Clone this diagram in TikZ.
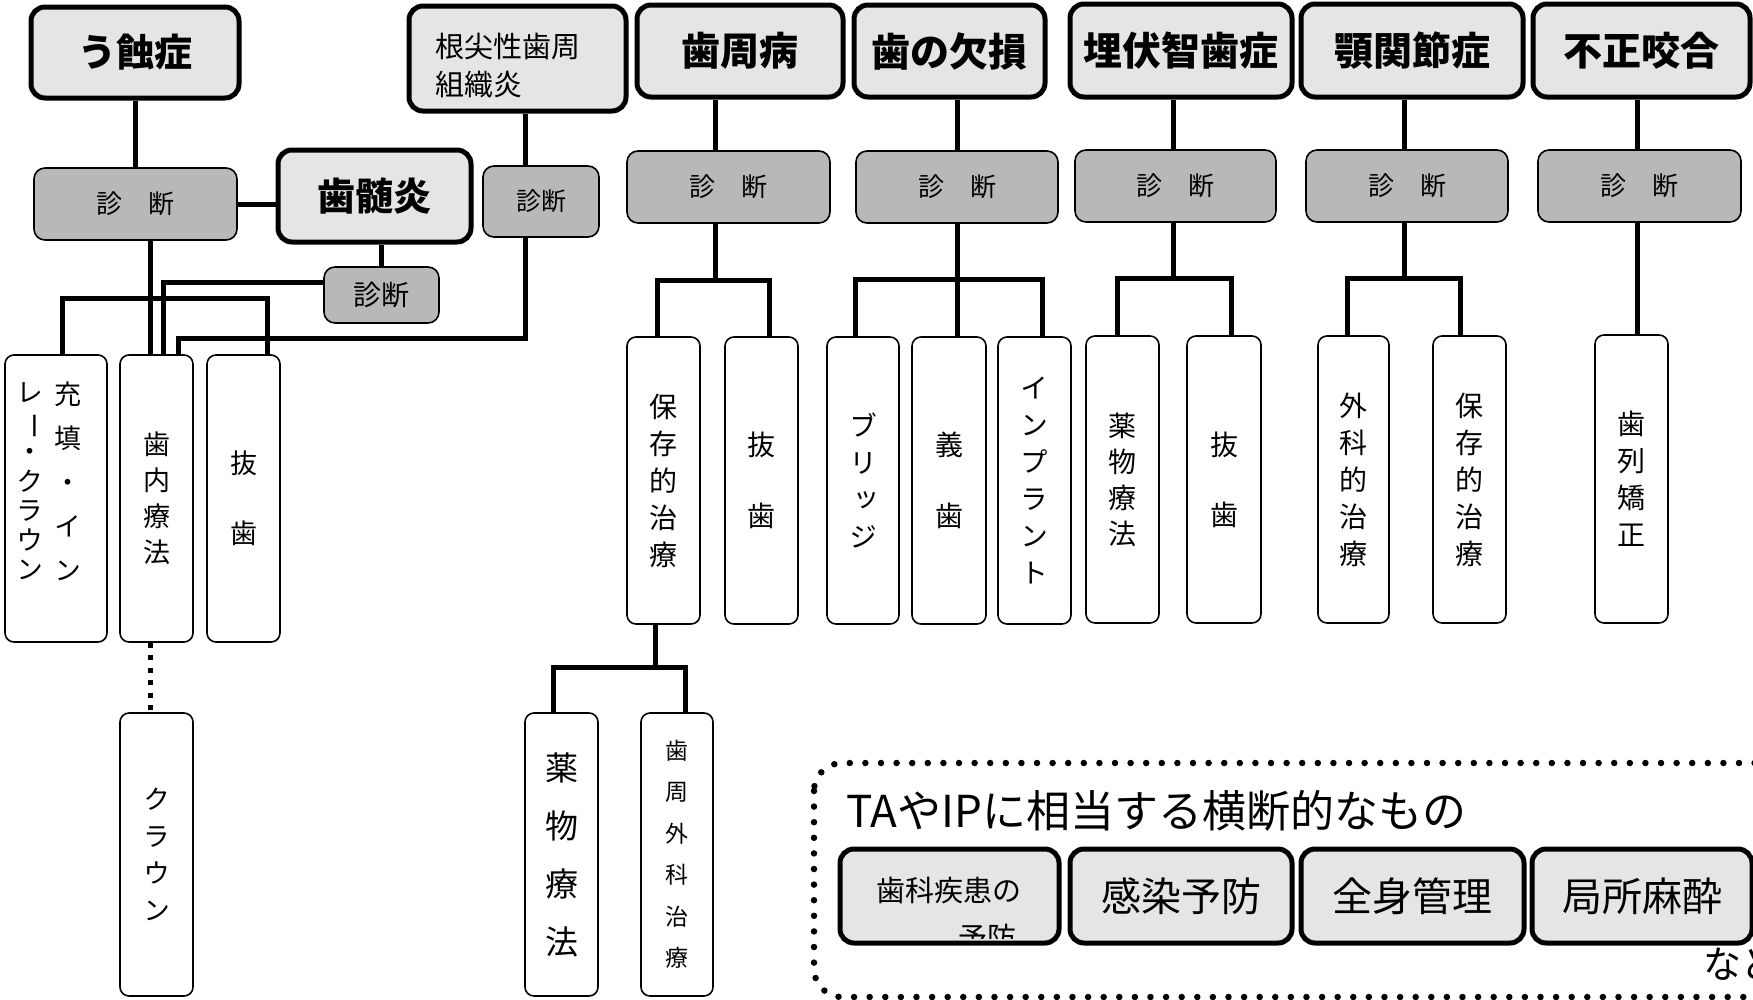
\documentclass[tikz,border=0pt]{standalone}
\usepackage{fontspec}
\usepackage{graphicx}
\setmainfont{Noto Sans CJK JP}
\newfontfamily\jpv[RawFeature=+vert]{Noto Sans CJK JP}
\newcommand{\vt}[2]{\fontsize{#1}{#2}\selectfont}
\newcommand{\mkbox}[7]{\node[#1,minimum width={(#5)-(#3)},minimum height={(#6)-(#4)}] (#2) at ({((#3)+(#5))/2},{((#4)+(#6))/2}) {#7};}
\newcommand{\vbar}{\rotatebox[origin=c]{-90}{\normalfont\vt{27}{30}ー}}
\definecolor{lightfill}{gray}{0.9}
\definecolor{diagfill}{gray}{0.72}
\tikzset{
  disease/.style={draw=black,line width=5pt,rounded corners=14pt,fill=lightfill,inner sep=0pt,align=center,font=\bfseries\vt{39}{44}},
  diagbox/.style={draw=black,line width=1.6pt,rounded corners=11pt,fill=diagfill,inner sep=0pt,align=center,font=\vt{26}{30}},
  treat/.style={draw=black,line width=1.6pt,rounded corners=9pt,fill=white,inner sep=0pt,align=center},
  conn/.style={line width=5pt},
  dotconn/.style={line width=5pt,dash pattern=on 5pt off 7.5pt},
  dotframe/.style={line width=6.5pt,line cap=round,dash pattern=on 0pt off 15.6pt,rounded corners=28pt},
  plain/.style={inner sep=0pt,align=left},
}
\begin{document}
\begin{tikzpicture}[x=1pt,y=-1pt]
\useasboundingbox (0,0) rectangle (1753,999);

% ---------- top row ----------
\mkbox{disease,font=\bfseries\vt{38}{44}}{caries}{31}{7}{239}{98}{う蝕症}
\mkbox{disease}{apical}{409}{6}{626}{111}{}
\node[plain,font=\vt{29}{38}] (apicalT) at (508,66) {根尖性歯周\\組織炎};
\mkbox{disease}{perio}{637}{5}{843}{97}{歯周病}
\mkbox{disease}{loss}{854}{5}{1045}{97}{歯の欠損}
\mkbox{disease}{impact}{1070}{4}{1292}{97}{埋伏智歯症}
\mkbox{disease}{tmj}{1301}{4}{1523}{97}{顎関節症}
\mkbox{disease}{maloc}{1533}{4}{1750}{97}{不正咬合}

% ---------- diagnosis row ----------
\mkbox{diagbox}{dA}{34}{168}{237}{240}{診　断}
\mkbox{disease,font=\bfseries\vt{38}{44}}{pulp}{278}{150}{471}{242}{歯髄炎}
\mkbox{diagbox,font=\vt{28}{30}}{dP}{324}{267}{439}{323}{診断}
\mkbox{diagbox,font=\vt{25}{30}}{dR}{483}{166}{599}{237}{診断}
\mkbox{diagbox}{dPerio}{627}{151}{830}{223}{診　断}
\mkbox{diagbox}{dLoss}{856}{151}{1058}{223}{診　断}
\mkbox{diagbox}{dImp}{1075}{150}{1276}{222}{診　断}
\mkbox{diagbox}{dTmj}{1306}{150}{1508}{222}{診　断}
\mkbox{diagbox}{dMal}{1538}{150}{1741}{222}{診　断}

% ---------- treatment boxes ----------
\mkbox{treat}{L1}{5}{355}{107}{642}{}
\node[plain,align=center,font=\jpv\vt{27}{44}] (L1r) at (68,481.5) {充\\填\\・\\イ\\ン};
\node[plain,align=center,font=\jpv\vt{27}{29.5}] (L1l) at (30,481.5) {レ\\\vbar\\・\\ク\\ラ\\ウ\\ン};
\mkbox{treat,font=\vt{27}{36}}{L2}{120}{355}{193}{642}{歯\\内\\療\\法}
\mkbox{treat,font=\vt{27}{70}}{L3}{207}{355}{280}{642}{抜\\歯}
\mkbox{treat,font=\jpv\vt{27}{37}}{crown}{120}{713}{193}{996}{ク\\ラ\\ウ\\ン}

\mkbox{treat,font=\vt{28}{37}}{P1}{627}{337}{700}{624}{保\\存\\的\\治\\療}
\mkbox{treat,font=\vt{28}{71}}{P2}{725}{337}{798}{624}{抜\\歯}
\mkbox{treat,font=\vt{33}{58}}{P3}{525}{713}{598}{996}{薬\\物\\療\\法}
\mkbox{treat,font=\vt{23}{41.5}}{P4}{641}{713}{713}{996}{歯\\周\\外\\科\\治\\療}

\mkbox{treat,font=\jpv\vt{28}{37}}{B1}{827}{337}{899}{624}{ブ\\リ\\ッ\\ジ}
\mkbox{treat,font=\vt{28}{71}}{B2}{912}{337}{986}{624}{義\\歯}
\mkbox{treat,font=\jpv\vt{28}{37}}{B3}{998}{337}{1071}{624}{イ\\ン\\プ\\ラ\\ン\\ト}

\mkbox{treat,font=\vt{28}{36}}{I1}{1086}{336}{1159}{623}{薬\\物\\療\\法}
\mkbox{treat,font=\vt{28}{70}}{I2}{1187}{336}{1261}{623}{抜\\歯}

\mkbox{treat,font=\vt{28}{37}}{T1}{1318}{336}{1389}{623}{外\\科\\的\\治\\療}
\mkbox{treat,font=\vt{28}{37}}{T2}{1433}{336}{1506}{623}{保\\存\\的\\治\\療}

\mkbox{treat,font=\vt{28}{37}}{M1}{1595}{335}{1668}{623}{歯\\列\\矯\\正}

% ---------- connectors, left part ----------
\coordinate (k0) at (150,0);
\coordinate (k1) at (163,282);
\coordinate (k2) at (62,298);
\coordinate (k3) at (267,298);
\coordinate (k4) at (525,0);
\coordinate (k5) at (178,338);
\draw[conn] (caries.south) -- (caries.south |- dA.north);
\draw[conn] (dA.east) -- (dA.east -| pulp.west);
\draw[conn] (pulp.south -| dP.north) -- (dP.north);
\draw[conn] (dP.west |- k1) -| (L2.north -| k1);
\draw[conn] (dA.south -| k0) -- (L2.north -| k0);
\draw[conn] (L1.north -| k2) -- (k2) -- (k3) -- (L3.north -| k3);
\draw[conn] (apical.south -| k4) -- (dR.north -| k4);
\draw[conn] (dR.south -| k4) |- (k5) -- (L2.north -| k5);
\draw[dotconn] (L2.south -| k0) -- (crown.north -| k0);

% ---------- connectors, periodontal ----------
\coordinate (pX) at (715,280);
\coordinate (pL) at (657,280);
\coordinate (pR) at (769,280);
\draw[conn] (perio.south -| pX) -- (dPerio.north -| pX);
\draw[conn] (dPerio.south -| pX) -- (pX);
\draw[conn] (P1.north -| pL) -- (pL) -- (pR) -- (P2.north -| pR);
\coordinate (qX) at (655,667);
\coordinate (qL) at (553,667);
\coordinate (qR) at (685,667);
\draw[conn] (P1.south -| qX) -- (qX);
\draw[conn] (P3.north -| qL) -- (qL) -- (qR) -- (P4.north -| qR);

% ---------- tooth loss ----------
\coordinate (lX) at (957,279);
\coordinate (lL) at (855,279);
\coordinate (lR) at (1042,279);
\draw[conn] (loss.south -| lX) -- (dLoss.north -| lX);
\draw[conn] (dLoss.south -| lX) -- (B2.north -| lX);
\draw[conn] (B1.north -| lL) -- (lL) -- (lR) -- (B3.north -| lR);

% ---------- impacted ----------
\coordinate (iX) at (1173,278);
\coordinate (iL) at (1117,278);
\coordinate (iR) at (1231,278);
\draw[conn] (impact.south -| iX) -- (dImp.north -| iX);
\draw[conn] (dImp.south -| iX) -- (iX);
\draw[conn] (I1.north -| iL) -- (iL) -- (iR) -- (I2.north -| iR);

% ---------- TMJ ----------
\coordinate (tX) at (1404,278);
\coordinate (tL) at (1347,278);
\coordinate (tR) at (1460,278);
\draw[conn] (tmj.south -| tX) -- (dTmj.north -| tX);
\draw[conn] (dTmj.south -| tX) -- (tX);
\draw[conn] (T1.north -| tL) -- (tL) -- (tR) -- (T2.north -| tR);

% ---------- malocclusion ----------
\coordinate (mX) at (1637,0);
\draw[conn] (maloc.south -| mX) -- (dMal.north -| mX);
\draw[conn] (dMal.south -| mX) -- (M1.north -| mX);

% ---------- cross-cutting frame ----------
\coordinate (fr1) at (814,763);
\coordinate (fr2) at (1800,997);
\draw[dotframe] (fr1) rectangle (fr2);
\node[plain,anchor=base west,font=\vt{44}{50}] (title) at (846,827) {TAやIPに相当する横断的なもの};
\mkbox{disease,font=\vt{29}{32}}{f1}{840}{849}{1059}{943}{}
\node[plain,font=\vt{29}{32}] (f1a) at (949,890) {歯科疾患の};
\begin{scope}
\clip (842,851) rectangle (1057,938);
\node[plain,font=\vt{29}{32}] (f1b) at (987,937) {予防};
\end{scope}
\mkbox{disease,font=\vt{40}{44}}{f2}{1070}{849}{1292}{943}{感染予防}
\mkbox{disease,font=\vt{40}{44}}{f3}{1301}{849}{1524}{943}{全身管理}
\mkbox{disease,font=\vt{40}{44}}{f4}{1532}{849}{1752}{943}{局所麻酔}
\node[plain,anchor=base west,font=\vt{38}{40}] (etc) at (1703,978) {など};
\end{tikzpicture}
\end{document}
